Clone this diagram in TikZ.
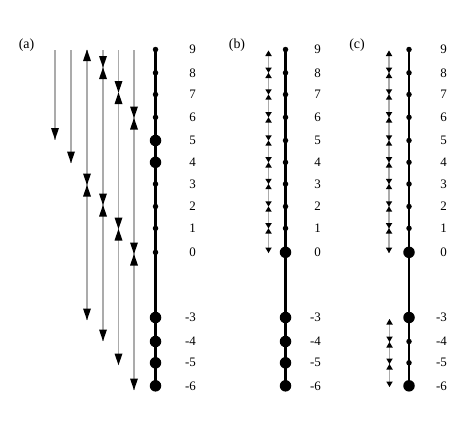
\documentclass[tikz,border=0pt]{standalone}
\usepackage{fontspec}
\setmainfont{Liberation Serif}
\newcommand\Tdn[4]{\fill ({#1-#3/2},{#2-#4}) -- ({#1+#3/2},{#2-#4}) -- (#1,#2) -- cycle;}
\newcommand\Tup[4]{\fill ({#1-#3/2},{#2+#4}) -- ({#1+#3/2},{#2+#4}) -- (#1,#2) -- cycle;}
\newcommand\Hg[4]{\Tdn{#1}{#2}{#3}{#4}\Tup{#1}{#2}{#3}{#4}}
\begin{document}
\begin{tikzpicture}[x=1bp,y=-1bp,
  ax/.style={line width=2.3bp},
  gl/.style={line width=1.1bp, draw=black!33},
  sdot/.style={circle,fill,inner sep=0pt,minimum size=5.5bp},
  bdot/.style={circle,fill,inner sep=0pt,minimum size=11.5bp},
  lab/.style={font=\fontsize{13}{15}\selectfont, anchor=east, inner sep=0pt},
  ptitle/.style={font=\fontsize{14}{16}\selectfont, inner sep=0pt},
]
\useasboundingbox (0,0) rectangle (474,422);

% panel titles
\node[ptitle] (ta) at (26.5,45) {(a)};
\node[ptitle] (tb) at (237,45) {(b)};
\node[ptitle] (tc) at (357,45) {(c)};

% ---------- panel (a) ----------
\foreach \n/\y/\s/\t in {9/49.5/s/9, 8/72.8/s/8, 7/94.5/s/7, 6/117.3/s/6, 5/140.5/b/5, 4/162.3/b/4, 3/184/s/3, 2/206.5/s/2, 1/228.3/s/1, 0/252.3/s/0, m3/317.5/b/-3, m4/341.5/b/-4, m5/362.8/b/-5, m6/385.8/b/-6}{
  \node[\s dot] (a\n) at (155.5,\y) {};
  \node[lab] (la\n) at (196,\y) {\t};
}
\draw[ax] (a9.center) -- (am6.center);

\coordinate (g1t) at (55,50);    \coordinate (g1b) at (55,139.5);
\coordinate (g2t) at (71,50);    \coordinate (g2b) at (71,163);
\coordinate (g3t) at (87,50);    \coordinate (g3b) at (87,320);
\coordinate (g4t) at (103,50);   \coordinate (g4b) at (103,341);
\coordinate (g5t) at (118.5,50); \coordinate (g5b) at (118.5,365);
\coordinate (g6t) at (134,50);   \coordinate (g6b) at (134,390);
\foreach \i in {1,...,6}{ \draw[gl] (g\i t) -- (g\i b); }

\Tdn{55}{139.5}{8}{11.5}
\Tdn{71}{163}{8}{11.5}
\Tup{87}{49.5}{8}{11.5} \Hg{87}{185}{8}{11.5} \Tdn{87}{320}{8}{11.5}
\Hg{103}{67.5}{8}{11.5} \Hg{103}{205}{8}{11.5} \Tdn{103}{341}{8}{11.5}
\Hg{118.5}{92.5}{8}{11.5} \Hg{118.5}{229}{8}{11.5} \Tdn{118.5}{365}{8}{11.5}
\Hg{134}{118}{8}{11.5} \Hg{134}{254}{8}{11.5} \Tdn{134}{390}{8}{11.5}

% ---------- panel (b) ----------
\foreach \n/\y/\s/\t in {9/49.5/s/9, 8/72.8/s/8, 7/94.5/s/7, 6/117.3/s/6, 5/140.5/s/5, 4/162.3/s/4, 3/184/s/3, 2/206.5/s/2, 1/228.3/s/1, 0/252.3/b/0, m3/317.5/b/-3, m4/341.5/b/-4, m5/362.8/b/-5, m6/385.8/b/-6}{
  \node[\s dot] (b\n) at (285.5,\y) {};
  \node[lab] (lb\n) at (321,\y) {\t};
}
\draw[ax] (b9.center) -- (bm6.center);
\coordinate (hbt) at (268.5,50.5); \coordinate (hbb) at (268.5,253);
\draw[gl] (hbt) -- (hbb);
\Tup{268.5}{50.5}{6.5}{5.5}
\foreach \y in {72.8,94.5,117.3,140.5,162.3,184,206.5,228.3}{ \Hg{268.5}{\y}{6.5}{5.2} }
\Tdn{268.5}{253}{6.5}{5.5}

% ---------- panel (c) ----------
\foreach \n/\y/\s/\t in {9/49.5/s/9, 8/72.8/s/8, 7/94.5/s/7, 6/117.3/s/6, 5/140.5/s/5, 4/162.3/s/4, 3/184/s/3, 2/206.5/s/2, 1/228.3/s/1, 0/252.3/b/0, m3/317.5/b/-3, m4/341.5/s/-4, m5/362.8/s/-5, m6/385.8/b/-6}{
  \node[\s dot] (c\n) at (409,\y) {};
  \node[lab] (lc\n) at (447,\y) {\t};
}
\draw[ax] (c9.center) -- (cm6.center);
\coordinate (hct) at (389,50.5); \coordinate (hcb) at (389,253);
\draw[gl] (hct) -- (hcb);
\Tup{389}{50.5}{6.5}{5.5}
\foreach \y in {72.8,94.5,117.3,140.5,162.3,184,206.5,228.3}{ \Hg{389}{\y}{6.5}{5.2} }
\Tdn{389}{253}{6.5}{5.5}
\coordinate (hdt) at (389.5,319); \coordinate (hdb) at (389.5,387);
\draw[gl] (hdt) -- (hdb);
\Tup{389.5}{319}{6.5}{5.5}
\Hg{389.5}{342}{6.5}{5.5} \Hg{389.5}{364}{6.5}{5.5}
\Tdn{389.5}{387}{6.5}{5.5}
\end{tikzpicture}
\end{document}
